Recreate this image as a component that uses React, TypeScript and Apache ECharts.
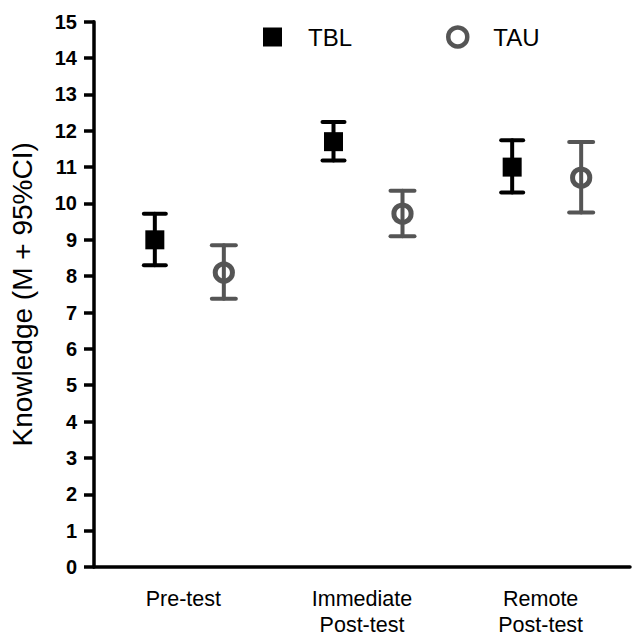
import React, { useEffect, useRef } from "react";
import * as echarts from "echarts";

const categories = ["Pre-test", "Immediate\nPost-test", "Remote\nPost-test"];
const tblMean = [9.0, 11.7, 11.0];
const tblLow = [8.3, 11.18, 10.3];
const tblHigh = [9.72, 12.24, 11.74];
const tauMean = [8.1, 9.72, 10.71];
const tauLow = [7.38, 9.1, 9.75];
const tauHigh = [8.85, 10.35, 11.69];

const FONT = "'Liberation Sans', Arial, Helvetica, sans-serif";
const TAU_COLOR = "#555555";

function makeRender(offset: number, kind: "square" | "ring", color: string, capHalf: number) {
  return (params: any, api: any) => {
    const xi = api.value(0);
    const pm = api.coord([xi, api.value(1)]);
    const pl = api.coord([xi, api.value(2)]);
    const ph = api.coord([xi, api.value(3)]);
    const x = pm[0] + offset;
    const lineStyle = { stroke: color, lineWidth: 4, lineCap: "round" };
    const children: any[] = [
      { type: "line", shape: { x1: x, y1: pl[1], x2: x, y2: ph[1] }, style: lineStyle },
      { type: "line", shape: { x1: x - capHalf, y1: ph[1], x2: x + capHalf, y2: ph[1] }, style: lineStyle },
      { type: "line", shape: { x1: x - capHalf, y1: pl[1], x2: x + capHalf, y2: pl[1] }, style: lineStyle },
    ];
    if (kind === "square") {
      children.push({
        type: "rect",
        shape: { x: x - 9.5, y: pm[1] - 9.5, width: 19, height: 19 },
        style: { fill: color },
      });
    } else {
      children.push({
        type: "circle",
        shape: { cx: x, cy: pm[1], r: 8.6 },
        style: { fill: "none", stroke: color, lineWidth: 5 },
      });
    }
    return { type: "group", children };
  };
}

export default function App() {
  const ref = useRef<HTMLDivElement>(null);
  useEffect(() => {
    if (!ref.current) return;
    const chart = echarts.init(ref.current, undefined, { renderer: "svg" });
    const tblData = categories.map((_, i) => [i, tblMean[i], tblLow[i], tblHigh[i]]);
    const tauData = categories.map((_, i) => [i, tauMean[i], tauLow[i], tauHigh[i]]);
    chart.setOption({
      animation: false,
      backgroundColor: "#ffffff",
      textStyle: { fontFamily: FONT },
      legend: {
        left: 258,
        top: 20,
        itemWidth: 19,
        itemHeight: 19,
        itemGap: 94,
        textStyle: { fontSize: 24, color: "#000", fontFamily: FONT, padding: [0, 0, 0, 21] },
        data: [
          { name: "TBL", icon: "rect", itemStyle: { color: "#000000" } },
          {
            name: "TAU",
            icon: "circle",
            itemStyle: { color: "rgba(0,0,0,0)", borderColor: TAU_COLOR, borderWidth: 4.5 },
          },
        ],
      },
      grid: { left: 92, right: 6, top: 21.7, bottom: 66, containLabel: false },
      xAxis: {
        type: "category",
        data: categories,
        boundaryGap: true,
        axisLine: { lineStyle: { color: "#000", width: 3.5 } },
        axisTick: { alignWithLabel: true, length: 10, lineStyle: { color: "#000", width: 3.5 } },
        axisLabel: {
          fontSize: 21.5,
          color: "#000",
          fontFamily: FONT,
          margin: 19,
          lineHeight: 26,
          interval: 0,
        },
        splitLine: { show: false },
      },
      yAxis: {
        type: "value",
        min: 0,
        max: 15,
        interval: 1,
        name: "Knowledge (M + 95%CI)",
        nameLocation: "middle",
        nameGap: 58,
        nameTextStyle: { fontSize: 28, color: "#000", fontFamily: FONT },
        axisLine: { show: true, lineStyle: { color: "#000", width: 3.5 } },
        axisTick: { show: true, length: 10, lineStyle: { color: "#000", width: 3.5 } },
        axisLabel: { fontSize: 20, fontWeight: "bold", color: "#000", fontFamily: FONT, margin: 17 },
        splitLine: { show: false },
      },
      series: [
        {
          name: "TBL",
          type: "custom",
          renderItem: makeRender(-28.5, "square", "#000000", 11),
          encode: { x: 0, y: [1, 2, 3] },
          itemStyle: { color: "#000000" },
          data: tblData,
          z: 3,
        },
        {
          name: "TAU",
          type: "custom",
          renderItem: makeRender(40.5, "ring", TAU_COLOR, 12),
          encode: { x: 0, y: [1, 2, 3] },
          itemStyle: { color: TAU_COLOR },
          data: tauData,
          z: 2,
        },
      ],
    });
    return () => chart.dispose();
  }, []);
  return <div ref={ref} style={{ width: 636, height: 638, position: "absolute", left: 0, top: 0 }} />;
}
